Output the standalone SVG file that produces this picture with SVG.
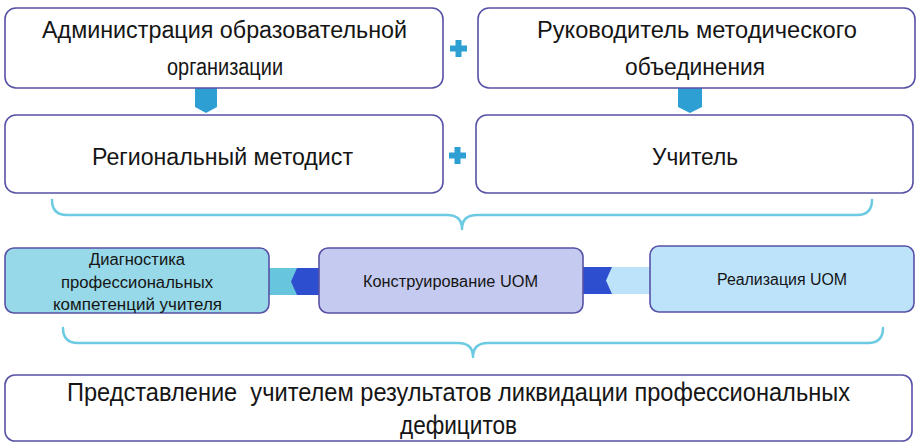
<svg xmlns="http://www.w3.org/2000/svg" width="917" height="445" viewBox="0 0 917 445">
<style>
.box{fill:#fff;stroke:#5752a6;stroke-width:1.6}
.t{font-family:"Liberation Sans","DejaVu Sans",sans-serif;fill:#151515;text-anchor:middle}
.big{font-size:23px}
.mid{font-size:16px}
.bot{font-size:25px}
.plus{fill:#2e9fd3}
.brace{fill:none;stroke:#6ccae2;stroke-width:2.5;stroke-linecap:round;stroke-linejoin:round}
</style>
<rect width="917" height="445" fill="#fff"/>
<g id="connectors">
  <polygon class="plus" points="195,88 217,88 217,107 206,113 195,107"/>
  <polygon class="plus" points="678,88 702,88 702,107 690,113 678,107"/>
  <rect class="plus" x="450" y="45.5" width="17" height="6"/>
  <rect class="plus" x="455.5" y="40" width="6" height="17"/>
  <rect class="plus" x="449" y="152.5" width="17" height="6"/>
  <rect class="plus" x="454.5" y="147" width="6" height="17"/>
  <path class="brace" d="M52,200 Q52,215 67,215 L447,215 Q462,215 462,229 Q462,215 477,215 L857,215 Q872,215 872,200"/>
  <path class="brace" d="M63,328 Q63,343 78,343 L458,343 Q473,343 473,357 Q473,343 488,343 L868,343 Q883,343 883,328"/>
  <rect x="269" y="268" width="32" height="27" fill="#67c6de"/>
  <polygon points="319,268 297,268 291,281.5 297,295 319,295" fill="#2d4fcf"/>
  <rect x="583" y="267" width="32" height="27" fill="#2d4fcf"/>
  <polygon points="650,267 612,267 606,280.5 612,294 650,294" fill="#bde3fb"/>
</g>
<g id="n1">
  <rect class="box" x="5" y="8" width="438" height="80" rx="11"/>
  <text class="t big" x="224.5" y="38" textLength="365" lengthAdjust="spacingAndGlyphs">Администрация образовательной</text>
  <text class="t big" x="225" y="75" textLength="116" lengthAdjust="spacingAndGlyphs">организации</text>
</g>
<g id="n2">
  <rect class="box" x="478" y="8" width="437" height="80" rx="11"/>
  <text class="t big" x="697" y="38" textLength="320" lengthAdjust="spacingAndGlyphs">Руководитель методического</text>
  <text class="t big" x="695" y="75" textLength="140" lengthAdjust="spacingAndGlyphs">объединения</text>
</g>
<g id="n3">
  <rect class="box" x="5" y="115" width="438" height="78" rx="11"/>
  <text class="t big" x="222.5" y="165" textLength="261" lengthAdjust="spacingAndGlyphs">Региональный методист</text>
</g>
<g id="n4">
  <rect class="box" x="476" y="115" width="437" height="78" rx="11"/>
  <text class="t big" x="695" y="165" textLength="86" lengthAdjust="spacingAndGlyphs">Учитель</text>
</g>
<g id="n5">
  <rect x="5" y="248" width="264" height="65" rx="9" fill="#97d9e8" stroke="#5752a6" stroke-width="1.6"/>
  <text class="t mid" x="137" y="265" textLength="96" lengthAdjust="spacingAndGlyphs">Диагностика</text>
  <text class="t mid" x="137" y="288" textLength="152" lengthAdjust="spacingAndGlyphs">профессиональных</text>
  <text class="t mid" x="137.5" y="310" textLength="169" lengthAdjust="spacingAndGlyphs">компетенций учителя</text>
</g>
<g id="n6">
  <rect x="319" y="248" width="264" height="65" rx="9" fill="#c5cbf0" stroke="#5752a6" stroke-width="1.6"/>
  <text class="t mid" x="450.5" y="287" textLength="175" lengthAdjust="spacingAndGlyphs">Конструирование UOM</text>
</g>
<g id="n7">
  <rect x="650" y="246" width="264" height="66" rx="9" fill="#bde3fb" stroke="#5752a6" stroke-width="1.6"/>
  <text class="t mid" x="782" y="285" textLength="130" lengthAdjust="spacingAndGlyphs">Реализация UOM</text>
</g>
<g id="n8">
  <rect class="box" x="5" y="375" width="907" height="66" rx="10"/>
  <text class="t bot" x="458.5" y="401" textLength="783" lengthAdjust="spacingAndGlyphs" xml:space="preserve">Представление  учителем результатов ликвидации профессиональных</text>
  <text class="t bot" x="458.5" y="434" textLength="117" lengthAdjust="spacingAndGlyphs">дефицитов</text>
</g>
</svg>
